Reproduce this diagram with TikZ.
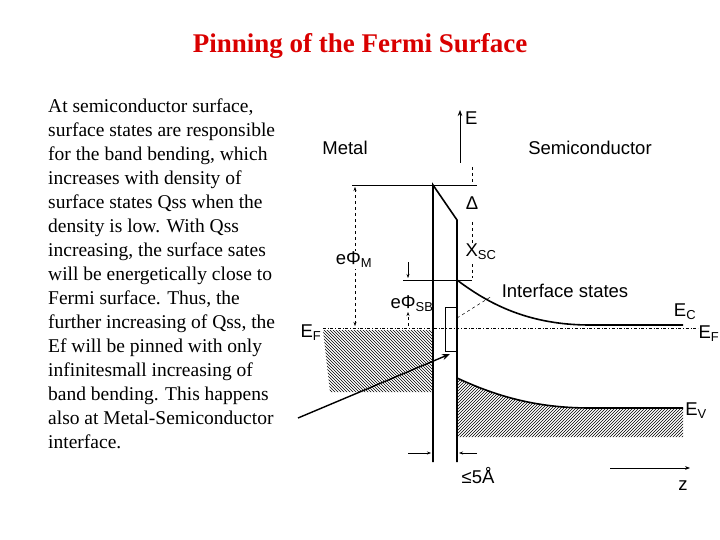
\documentclass[tikz,border=0pt]{standalone}
\usepackage{fontspec}
\setmainfont{Liberation Serif}
\newfontfamily\dia{Liberation Sans}
\usetikzlibrary{patterns,arrows.meta}
\begin{document}
\begin{tikzpicture}[x=1pt,y=-1pt,
  lbl/.style={font=\dia\fontsize{18.5}{20}\selectfont,inner sep=0},
  thick line/.style={line width=1.6pt},
  thin dash/.style={dashed,line width=0.5pt},
  dim/.style={-{Stealth[length=4pt]},line width=0.5pt}]
\useasboundingbox (0,0) rectangle (720,540);
\node[text=red!85!black,font=\bfseries\fontsize{27}{30}\selectfont] (title) at (360,46) {Pinning of the Fermi Surface};
\node[anchor=north west,align=left,inner sep=0,font=\fontsize{19.5}{24}\selectfont] (txt) at (48,99) {At semiconductor surface,\\surface states are responsible\\for the band bending, which\\increases with density of\\surface states Qss when the\\density is low. With Qss\\increasing, the surface sates\\will be energetically close to\\Fermi surface. Thus, the\\further increasing of Qss, the\\Ef will be pinned with only\\infinitesmall increasing of\\band bending. This happens\\also at Metal-Semiconductor\\interface.};
% hatching
\fill[pattern=north west lines] (323,330) -- (433,330) -- (433,392) -- (330,392) -- cycle;
\fill[pattern=north east lines] (457,378) .. controls (500,398) and (540,408) .. (590,408) -- (683,408) -- (683,437) -- (457,437) -- cycle;
% axis
\coordinate (Ebot) at (460,163); \coordinate (Etop) at (460,110);
\draw[-{Stealth[length=6pt]},line width=0.7pt] (Ebot) -- (Etop);
\node[lbl,anchor=west] (E) at (465,118) {E};
\node[lbl] (metal) at (345,148) {Metal};
\node[lbl] (semi) at (590,148) {Semiconductor};
% barrier
\draw[thick line] (433,462) -- (433,185) -- (457,220) -- (457,462);
\draw[line width=0.7pt] (352,185) -- (477,185);
\draw[line width=0.7pt] (403,280) -- (472,280);
% Ef
\draw[dash dot,line width=0.9pt] (323,328) -- (698,328);
\node[lbl] (EFl) at (311,333) {E\textsubscript{F}};
\node[lbl] (EFr) at (709,334) {E\textsubscript{F}};
% bands
\draw[thick line] (457,280) .. controls (490,305) and (530,325) .. (590,325) -- (683,325);
\draw[thick line] (457,378) .. controls (500,398) and (540,408) .. (590,408) -- (683,408);
\node[lbl] (EC) at (685,312) {E\textsubscript{C}};
\node[lbl] (EV) at (696,411) {E\textsubscript{V}};
% dimensions
\draw[thin dash,{Stealth[length=4pt]}-{Stealth[length=4pt]}] (355,187) -- (355,326);
\node[lbl,fill=white,inner sep=1pt] (ePM) at (354,260) {eΦ\textsubscript{M}};
\draw[thin dash] (472,167) -- (472,183);
\draw[thin dash] (472,222) -- (472,278);
\node[lbl,fill=white,inner sep=1pt] (D) at (472,203) {Δ};
\node[lbl,fill=white,inner sep=1pt] (X) at (481,252) {X\textsubscript{SC}};
\draw[dim] (408,262) -- (408,278);
\draw[thin dash,-{Stealth[length=4pt]}] (408,326) -- (408,312);
\node[lbl] (ePS) at (412,304) {eΦ\textsubscript{SB}};
% interface states
\draw[line width=0.7pt] (445,307) rectangle (457,351);
\node[lbl] (IS) at (565,291) {Interface states};
\draw[thin dash] (457,318) -- (492,296);
% width
\draw[dim] (408,453) -- (431,453);
\draw[dim] (477,453) -- (459,453);
\node[lbl] (w) at (478,476) {≤5Å};
\draw[-{Stealth[length=5pt]},line width=0.7pt] (610,468) -- (690,468);
\node[lbl] (z) at (683,486) {z};
% pointer
\coordinate (p0) at (298,418);
\draw[-{Stealth[length=8pt]},line width=1.4pt] (p0) -- (450,354);
\end{tikzpicture}
\end{document}
